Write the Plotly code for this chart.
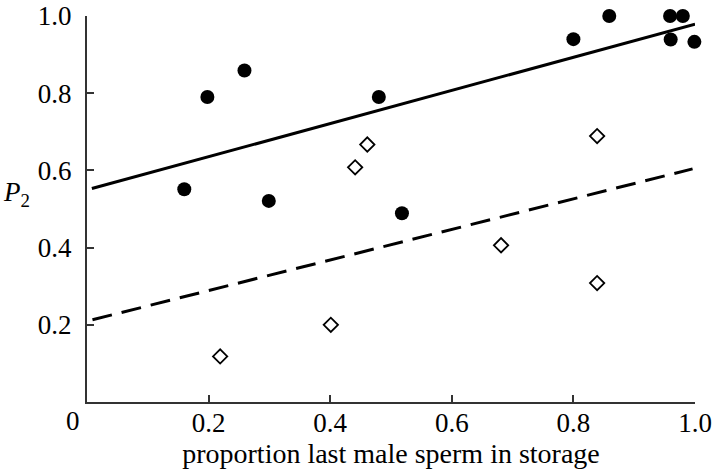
import plotly.graph_objects as go

# Data
circle_x = [0.160, 0.198, 0.259, 0.299, 0.480, 0.518, 0.800, 0.859, 0.959, 0.980, 0.960, 0.999]
circle_y = [0.551, 0.790, 0.859, 0.521, 0.790, 0.489, 0.940, 1.000, 1.000, 1.000, 0.939, 0.933]

diamond_x = [0.219, 0.401, 0.441, 0.461, 0.681, 0.839, 0.839]
diamond_y = [0.118, 0.200, 0.608, 0.667, 0.406, 0.689, 0.308]

solid_x = [0.008, 1.0]
solid_y = [0.553, 0.979]
dashed_x = [0.009, 0.996]
dashed_y = [0.213, 0.604]

tick_vals = [0.2, 0.4, 0.6, 0.8, 1.0]
tick_text = ["0.2", "0.4", "0.6", "0.8", "1.0"]

FONT = "Liberation Serif"
FS = 27

fig = go.Figure()
fig.add_trace(go.Scatter(x=solid_x, y=solid_y, mode="lines",
                         line=dict(color="black", width=3), showlegend=False))
fig.add_trace(go.Scatter(x=dashed_x, y=dashed_y, mode="lines",
                         line=dict(color="black", width=3, dash="20px,10px"), showlegend=False))
fig.add_trace(go.Scatter(x=circle_x, y=circle_y, mode="markers",
                         marker=dict(symbol="circle", size=14, color="black"),
                         cliponaxis=False, showlegend=False))
fig.add_trace(go.Scatter(x=diamond_x, y=diamond_y, mode="markers",
                         marker=dict(symbol="diamond", size=11, color="white",
                                     line=dict(color="black", width=1.8)),
                         cliponaxis=False, showlegend=False))

axis_common = dict(showline=True, linecolor="#333333", linewidth=2,
                   ticks="inside", ticklen=7, tickwidth=2, tickcolor="#333333",
                   showgrid=False, zeroline=False, automargin=False,
                   ticklabeloverflow="allow",
                   tickfont=dict(family=FONT, size=FS, color="black"))

fig.update_xaxes(range=[0, 1], tickvals=tick_vals, ticktext=tick_text,
                 ticklabelstandoff=-4,
                 title=dict(text="proportion last male sperm in storage",
                            font=dict(family=FONT, size=28, color="black"), standoff=2),
                 **axis_common)
fig.update_yaxes(range=[0, 1], tickvals=tick_vals, ticktext=tick_text,
                 ticklabelstandoff=8, **axis_common)

fig.add_annotation(text="0", xref="paper", yref="paper", x=-0.008, y=-0.05,
                   xanchor="right", yanchor="middle", showarrow=False,
                   font=dict(family=FONT, size=FS, color="black"))
fig.add_annotation(text="<i>P</i><sub>2</sub>", xref="paper", yref="paper", x=-0.142, y=0.54,
                   xanchor="left", yanchor="middle", showarrow=False,
                   font=dict(family=FONT, size=FS, color="black"))

fig.update_layout(width=713, height=474,
                  margin=dict(l=86.7, r=18.3, t=15.7, b=71.5),
                  plot_bgcolor="white", paper_bgcolor="white")

# remove the browser's default 8px body margin so the figure fills the window exactly
fig.write_html("out.html", config={"displayModeBar": False},
               post_script="document.body.style.margin='0px';")
